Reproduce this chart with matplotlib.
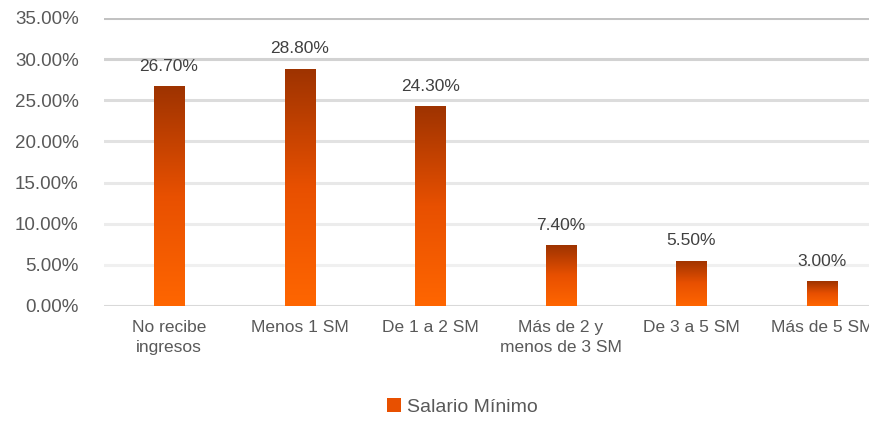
import numpy as np
import matplotlib.pyplot as plt
from matplotlib.colors import LinearSegmentedColormap
from matplotlib.patches import Patch

categorias = ["No recibe\ningresos", "Menos 1 SM", "De 1 a 2 SM",
              "Más de 2 y\nmenos de 3 SM", "De 3 a 5 SM", "Más de 5 SM"]
valores = [0.267, 0.288, 0.243, 0.074, 0.055, 0.030]
etiquetas = ["26.70%", "28.80%", "24.30%", "7.40%", "5.50%", "3.00%"]
yticks = [0.0, 0.05, 0.10, 0.15, 0.20, 0.25, 0.30, 0.35]

plt.rcParams['font.family'] = ['Liberation Sans', 'DejaVu Sans']
gris = '#595959'

fig = plt.figure(figsize=(8.69, 4.22), dpi=100)
ax = fig.add_axes([0.1193, 0.2749, 0.9017, 0.6825])

x = np.arange(len(categorias))
ancho = 0.23
bars = ax.bar(x, valores, width=ancho, color='none', zorder=3)

# gradient fill: dark at top, bright orange at bottom
cmap = LinearSegmentedColormap.from_list('sal', ['#FF6600', '#E85000', '#9E3300'])
grad = np.linspace(0, 1, 256).reshape(-1, 1)
for b in bars:
    x0, y0 = b.get_x(), b.get_y()
    w, h = b.get_width(), b.get_height()
    im = ax.imshow(grad, cmap=cmap, origin='lower', aspect='auto',
                   extent=[x0, x0 + w, y0, y0 + h], zorder=3)
    im.set_clip_path(b)

ax.set_xlim(-0.5, len(categorias) - 0.5)
ax.set_ylim(0, 0.35)

# grid lines, top ones slightly darker
colores_grid = ['#D9D9D9', '#F0F0F0', '#ECECEC', '#E8E8E8', '#E2E2E2', '#DCDCDC', '#D2D2D2', '#C2C2C2']
for yt, c in zip(yticks, colores_grid):
    ax.axhline(yt, color=c, lw=2.2, zorder=1)

ax.set_yticks(yticks)
ax.set_yticklabels([f"{v * 100:.2f}%" for v in yticks], fontsize=13.5, color=gris)
ax.set_xticks(x)
ax.set_xticklabels(categorias, fontsize=12.5, color=gris, linespacing=1.45)
ax.tick_params(length=0)
ax.tick_params(axis='y', pad=18)
ax.tick_params(axis='x', pad=10)
for s in ax.spines.values():
    s.set_visible(False)

for b, et in zip(bars, etiquetas):
    ax.annotate(et, (b.get_x() + b.get_width() / 2, b.get_height()),
                xytext=(0, 9), textcoords='offset points',
                ha='center', va='bottom', fontsize=12.5, color='#404040')

h = Patch(facecolor='#E85000', edgecolor='none')
fig.legend([h], ['Salario Mínimo'], loc='center', bbox_to_anchor=(0.532, 0.035),
           frameon=False, fontsize=14, labelcolor=gris, handlelength=0.7,
           handleheight=0.7, handletextpad=0.3)

fig.savefig('out.png', dpi=100)
